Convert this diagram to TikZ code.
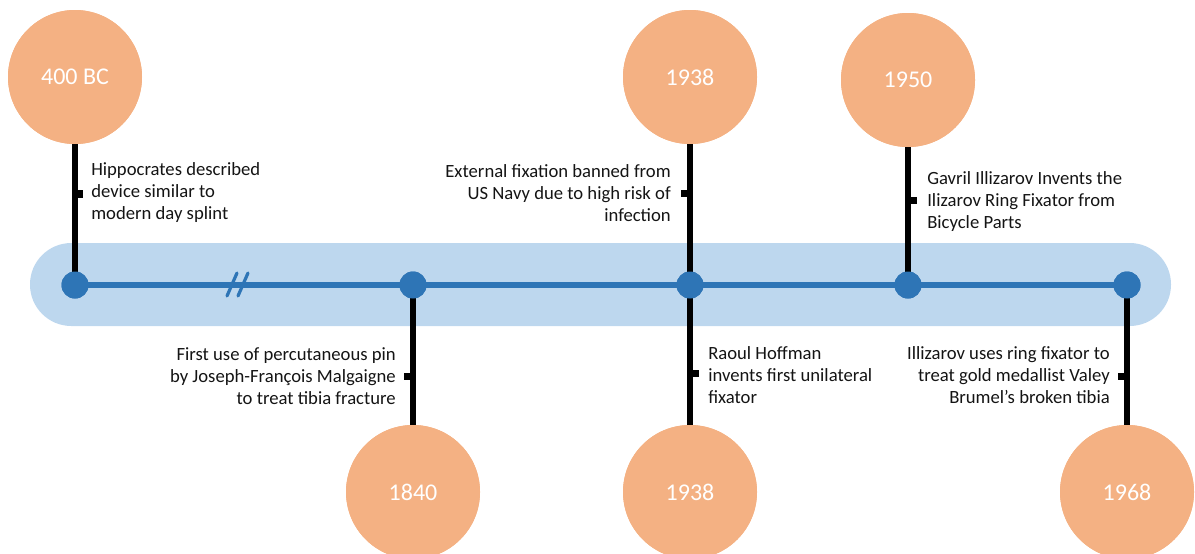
\documentclass[tikz,border=0pt]{standalone}
\usepackage{fontspec}
\setmainfont{Carlito}
\definecolor{orangec}{HTML}{F4B183}
\definecolor{bandc}{HTML}{BDD7EE}
\definecolor{bluec}{HTML}{2E75B6}
\definecolor{textc}{HTML}{141414}
\tikzset{
  yearc/.style={circle, fill=orangec, minimum size=100.5pt, inner sep=0pt, text=white, font=\fontsize{18}{20}\selectfont},
  dotc/.style={circle, fill=bluec, minimum size=20.25pt, inner sep=0pt},
  stem/.style={line width=5pt, black},
  mainline/.style={line width=4.9pt, bluec},
  slash/.style={line width=2.4pt, bluec, line cap=round},
  desc/.style={inner sep=0pt, text=textc, font=\fontsize{14}{16.5}\selectfont},
  tick/.style={fill=black}
}
\begin{document}
\begin{tikzpicture}[x=0.75pt, y=-0.75pt]
\useasboundingbox (0,0) rectangle (1195,553);
% band
\fill[bandc, rounded corners=31pt] (30,243) rectangle (1171,326);
% dots (positions)
\node[dotc] (d1) at (75,285) {};
\node[dotc] (d2) at (413,285) {};
\node[dotc] (d3) at (690,285) {};
\node[dotc] (d4) at (908,285) {};
\node[dotc] (d5) at (1127,285) {};
% circles
\node[yearc] (c1) at (75,77) {400 BC};
\node[yearc] (c2) at (413,492) {1840};
\node[yearc] (c3) at (690,77) {1938};
\node[yearc] (c4) at (690,492) {1938};
\node[yearc] (c5) at (908,80) {1950};
\node[yearc] (c6) at (1127,492) {1968};
% main line
\draw[mainline] (d1.center) -- (d5.center);
% break marks
\coordinate (s1a) at (227,296); \coordinate (s1b) at (237,273);
\coordinate (s2a) at (238,296); \coordinate (s2b) at (248,273);
\draw[slash] (s1a) -- (s1b);
\draw[slash] (s2a) -- (s2b);
% stems
\draw[stem] (c1.south) -- (d1.center);
\draw[stem] (c2.north) -- (d2.center);
\draw[stem] (c3.south) -- (d3.center);
\draw[stem] (c4.north) -- (d3.center);
\draw[stem] (c5.south) -- (d4.center);
\draw[stem] (c6.north) -- (d5.center);
% redraw circles and dots on top
\node[yearc] at (c1) {400 BC};
\node[yearc] at (c2) {1840};
\node[yearc] at (c3) {1938};
\node[yearc] at (c4) {1938};
\node[yearc] at (c5) {1950};
\node[yearc] at (c6) {1968};
\node[dotc] at (d1) {};
\node[dotc] at (d2) {};
\node[dotc] at (d3) {};
\node[dotc] at (d4) {};
\node[dotc] at (d5) {};
% ticks
\fill[tick] (78,190) rectangle (83,198);
\fill[tick] (404,373) rectangle (410,380);
\fill[tick] (681,190) rectangle (687,197);
\fill[tick] (693,370) rectangle (699,377);
\fill[tick] (911,197) rectangle (917,204);
\fill[tick] (1118,373) rectangle (1124,380);
% texts
\node[desc, anchor=west, align=left] (t1) at (91,193) {Hippocrates described\\device similar to\\modern day splint};
\node[desc, anchor=east, align=right] (t2) at (396,376) {First use of percutaneous pin\\by Joseph-François Malgaigne\\to treat tibia fracture};
\node[desc, anchor=east, align=right] (t3) at (671,193) {External fixation banned from\\US Navy due to high risk of\\infection};
\node[desc, anchor=west, align=left] (t4) at (708,375) {Raoul Hoffman\\invents first unilateral\\fixator};
\node[desc, anchor=west, align=left] (t5) at (927,202) {Gavril Illizarov Invents the\\Ilizarov Ring Fixator from\\Bicycle Parts};
\node[desc, anchor=east, align=right] (t6) at (1110,375) {Illizarov uses ring fixator to\\treat gold medallist Valey\\Brumel’s broken tibia};
\end{tikzpicture}
\end{document}
